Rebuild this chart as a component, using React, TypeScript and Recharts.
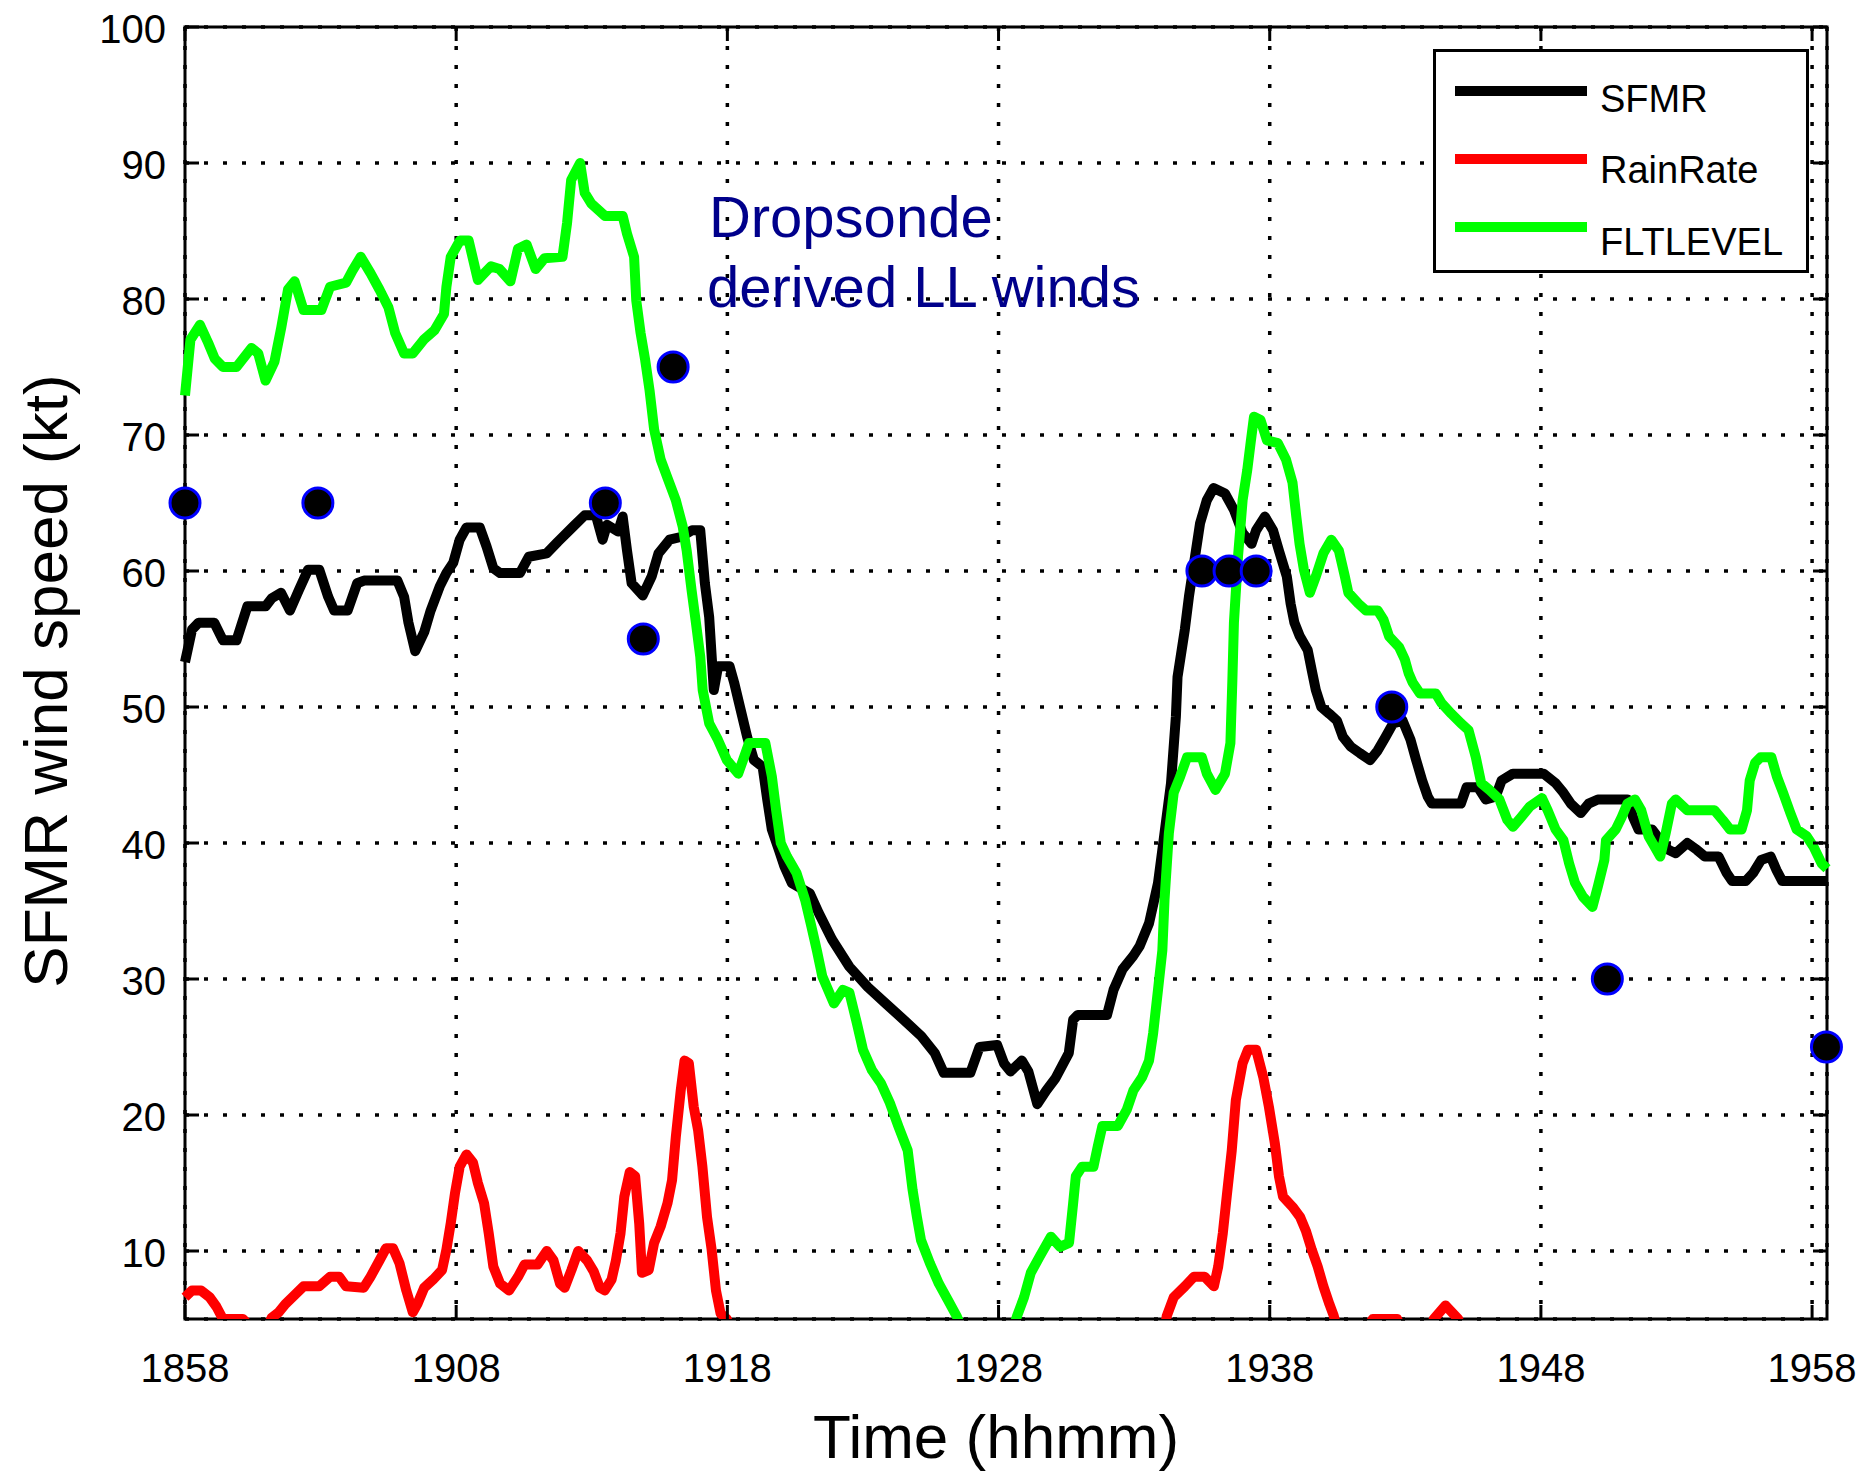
import React from 'react';
import {
  ComposedChart,
  Line,
  Scatter,
  XAxis,
  YAxis,
  CartesianGrid,
  Legend,
  ReferenceArea,
  ReferenceDot,
} from 'recharts';

// ---------- data ----------
// time in minutes after 18:58
const xTicks = [0, 10, 20, 30, 40, 50, 60];
const xTickLabels = ['1858', '1908', '1918', '1928', '1938', '1948', '1958'];
const yTicks = [10, 20, 30, 40, 50, 60, 70, 80, 90, 100];
const legendOrder = ['SFMR', 'RainRate', 'FLTLEVEL'];
const X_MAX = 60.55;
const Y_MIN = 5;
const Y_MAX = 100;

const sfmrSeries: [number, number][] = [
  [0.0, 53.3], [0.26, 55.7], [0.5, 56.2], [1.08, 56.2], [1.4, 54.9], [1.9, 54.9], [2.3, 57.4], [2.97, 57.4],
  [3.2, 58.0], [3.54, 58.4], [3.87, 57.1], [4.2, 58.6], [4.54, 60.1], [4.95, 60.1], [5.28, 58.1], [5.5, 57.1],
  [6.0, 57.1], [6.35, 59.1], [6.6, 59.3], [7.83, 59.3], [8.08, 58.1], [8.24, 56.2], [8.49, 54.1], [8.82, 55.5],
  [9.06, 57.1], [9.39, 58.85], [9.64, 59.85], [9.89, 60.6], [10.13, 62.3], [10.38, 63.2], [10.87, 63.2],
  [11.12, 61.8], [11.37, 60.2], [11.62, 59.85], [12.35, 59.85], [12.68, 61.05], [13.34, 61.3], [13.75, 62.15],
  [14.33, 63.3], [14.74, 64.1], [15.15, 64.1], [15.4, 62.3], [15.56, 63.4], [15.97, 62.9], [16.14, 64.0],
  [16.3, 61.5], [16.47, 59.1], [16.88, 58.2], [17.21, 59.6], [17.46, 61.3], [17.87, 62.3], [18.28, 62.5],
  [18.7, 63.0], [19.0, 63.0], [19.17, 59.1], [19.33, 56.6], [19.5, 51.25], [19.66, 53.0], [20.08, 53.0],
  [20.25, 51.8], [20.49, 49.8], [20.73, 47.8], [20.98, 46.1], [21.3, 45.6], [21.47, 43.2], [21.64, 41.0],
  [21.9, 39.5], [22.1, 38.3], [22.38, 37.05], [23.04, 36.3], [23.37, 34.85], [23.86, 32.9], [24.5, 30.9],
  [25.18, 29.4], [25.84, 28.2], [26.5, 27.0], [27.15, 25.8], [27.65, 24.55], [27.98, 23.1], [28.96, 23.1],
  [29.3, 25.0], [29.95, 25.15], [30.2, 23.8], [30.44, 23.2], [30.86, 24.0], [31.1, 23.2], [31.43, 20.8],
  [31.76, 21.8], [32.1, 22.7], [32.59, 24.55], [32.75, 27.0], [32.92, 27.35], [34.0, 27.35], [34.24, 29.2],
  [34.57, 30.7], [34.97, 31.7], [35.2, 32.4], [35.55, 34.1], [35.88, 37.05], [36.04, 39.5], [36.36, 44.4],
  [36.54, 49.3], [36.6, 52.2], [36.87, 55.7], [37.02, 58.1], [37.28, 61.5], [37.43, 63.5], [37.68, 65.2],
  [37.93, 66.1], [38.35, 65.7], [38.68, 64.5], [39.0, 62.8], [39.33, 62.0], [39.5, 63.0], [39.82, 64.0],
  [40.12, 63.0], [40.34, 61.5], [40.63, 59.6], [40.77, 57.6], [40.91, 56.2], [41.11, 55.2], [41.4, 54.2],
  [41.55, 52.7], [41.7, 51.25], [41.9, 50.0], [42.2, 49.5], [42.48, 49.0], [42.7, 47.8], [42.98, 47.1],
  [43.33, 46.6], [43.7, 46.1], [43.98, 46.8], [44.27, 47.8], [44.55, 48.8], [44.9, 49.0], [45.19, 47.6],
  [45.4, 46.1], [45.62, 44.6], [45.83, 43.4], [45.98, 42.9], [47.05, 42.9], [47.26, 44.1], [47.68, 44.1],
  [47.97, 43.2], [48.33, 43.4], [48.55, 44.6], [48.97, 45.1], [50.1, 45.1], [50.54, 44.4], [50.83, 43.7],
  [51.1, 42.9], [51.47, 42.2], [51.76, 42.9], [52.1, 43.2], [53.19, 43.2], [53.4, 41.9], [53.6, 41.0],
  [54.1, 41.0], [54.4, 40.2], [54.7, 39.5], [54.97, 39.25], [55.4, 40.0], [55.75, 39.5], [56.05, 39.0],
  [56.55, 39.0], [56.85, 37.8], [57.05, 37.2], [57.55, 37.2], [57.83, 37.8], [58.12, 38.75], [58.47, 39.0],
  [58.69, 38.0], [58.9, 37.2], [60.55, 37.2],
];

const rainSeries: [number, number][] = [
  [0.0, 6.6], [0.26, 7.1], [0.59, 7.1], [0.91, 6.6], [1.16, 5.9], [1.4, 5.0], [2.14, 5.0], [2.5, 4.2],
  [3.0, 4.2], [3.2, 5.1], [3.46, 5.5], [3.7, 6.1], [4.04, 6.75], [4.37, 7.4], [4.95, 7.4], [5.35, 8.1],
  [5.69, 8.1], [5.94, 7.4], [6.59, 7.3], [6.84, 8.1], [7.17, 9.3], [7.41, 10.2], [7.67, 10.2], [7.91, 9.1],
  [8.16, 7.1], [8.4, 5.5], [8.57, 6.1], [8.82, 7.3], [9.15, 7.9], [9.48, 8.6], [9.64, 10.1], [9.8, 12.05],
  [9.96, 14.3], [10.13, 16.2], [10.38, 17.1], [10.62, 16.5], [10.8, 15.0], [11.03, 13.5], [11.2, 11.3],
  [11.37, 8.85], [11.62, 7.6], [11.95, 7.1], [12.28, 8.1], [12.52, 9.0], [13.0, 9.0], [13.34, 10.0],
  [13.59, 9.3], [13.83, 7.6], [14.0, 7.3], [14.25, 8.6], [14.5, 10.0], [14.83, 9.3], [15.07, 8.5],
  [15.3, 7.3], [15.48, 7.1], [15.73, 7.9], [15.89, 9.3], [16.06, 11.3], [16.2, 14.0], [16.4, 15.8],
  [16.6, 15.5], [16.75, 12.0], [16.85, 8.4], [17.1, 8.6], [17.3, 10.6], [17.54, 11.8], [17.79, 13.5],
  [17.96, 15.2], [18.1, 18.4], [18.28, 21.8], [18.42, 24.0], [18.58, 23.8], [18.76, 20.6], [18.92, 18.9],
  [19.08, 16.2], [19.25, 12.5], [19.42, 10.1], [19.58, 7.1], [19.75, 5.4], [19.98, 5.0], [20.6, 0.0],
  [35.8, 0.0], [36.2, 5.2], [36.46, 6.6], [36.87, 7.4], [37.2, 8.1], [37.6, 8.1], [37.94, 7.4], [38.1, 8.85],
  [38.27, 11.3], [38.43, 14.3], [38.6, 17.4], [38.75, 21.1], [39.0, 23.8], [39.2, 24.8], [39.5, 24.8],
  [39.76, 22.8], [39.97, 20.6], [40.19, 17.9], [40.34, 15.5], [40.49, 14.0], [40.84, 13.25], [41.12, 12.5],
  [41.33, 11.5], [41.55, 10.1], [41.77, 8.85], [41.98, 7.4], [42.2, 6.1], [42.35, 5.3], [42.6, 3.5],
  [43.5, 4.0], [43.8, 5.0], [44.7, 5.0], [45.0, 3.5], [45.9, 4.0], [46.05, 5.0], [46.48, 6.0], [46.95, 5.0],
  [47.2, 3.0], [48.0, 0.0], [60.55, 0.0],
];

const fltSeries: [number, number][] = [
  [0.0, 72.9], [0.2, 77.0], [0.55, 78.1], [0.85, 76.8], [1.1, 75.6], [1.4, 75.0], [1.9, 75.0], [2.45, 76.4],
  [2.7, 76.0], [2.97, 74.0], [3.3, 75.4], [3.55, 77.9], [3.8, 80.7], [4.04, 81.3], [4.37, 79.2], [5.03, 79.2],
  [5.35, 80.9], [5.94, 81.2], [6.18, 82.1], [6.48, 83.1], [6.84, 81.9], [7.17, 80.7], [7.5, 79.4], [7.75, 77.5],
  [8.08, 76.0], [8.4, 76.0], [8.8, 77.0], [9.2, 77.7], [9.55, 78.9], [9.64, 80.9], [9.8, 83.1], [10.14, 84.3],
  [10.46, 84.3], [10.8, 81.4], [11.28, 82.4], [11.6, 82.2], [12.0, 81.3], [12.28, 83.7], [12.6, 84.0],
  [12.93, 82.2], [13.26, 83.0], [13.92, 83.1], [14.09, 85.6], [14.24, 88.75], [14.57, 90.0], [14.74, 87.8],
  [14.99, 87.0], [15.49, 86.1], [16.14, 86.1], [16.3, 84.8], [16.56, 83.1], [16.64, 79.9], [16.8, 77.5],
  [16.97, 75.5], [17.13, 73.3], [17.3, 70.4], [17.54, 68.2], [17.8, 66.8], [18.1, 65.2], [18.35, 63.3],
  [18.5, 61.5], [18.68, 58.6], [18.84, 56.2], [19.0, 53.7], [19.09, 51.25], [19.33, 48.8], [19.65, 47.6],
  [19.98, 46.1], [20.4, 45.1], [20.8, 47.35], [21.4, 47.35], [21.64, 44.9], [21.8, 42.4], [21.97, 40.0],
  [22.2, 39.0], [22.55, 37.8], [22.87, 35.8], [23.1, 33.85], [23.3, 32.1], [23.5, 30.2], [23.93, 28.2],
  [24.26, 29.2], [24.5, 29.0], [24.77, 26.8], [25.0, 24.8], [25.33, 23.3], [25.66, 22.35], [25.99, 20.9],
  [26.32, 19.1], [26.65, 17.4], [26.83, 14.5], [26.99, 12.5], [27.14, 10.8], [27.47, 9.1], [27.8, 7.6],
  [28.13, 6.4], [28.46, 5.2], [29.0, 2.5], [29.8, 1.0], [30.3, 2.8], [30.68, 5.2], [30.94, 6.6], [31.19, 8.4],
  [31.52, 9.6], [31.93, 11.05], [32.27, 10.3], [32.6, 10.6], [32.75, 13.5], [32.85, 15.5], [33.08, 16.2],
  [33.5, 16.2], [33.66, 17.7], [33.83, 19.2], [34.4, 19.2], [34.73, 20.4], [34.97, 21.8], [35.3, 22.8],
  [35.55, 24.0], [35.7, 26.0], [35.88, 29.2], [36.04, 32.1], [36.12, 35.8], [36.28, 40.7], [36.46, 43.7],
  [36.7, 44.9], [36.95, 46.3], [37.5, 46.3], [37.68, 45.1], [38.0, 43.9], [38.35, 45.1], [38.55, 47.35],
  [38.62, 51.8], [38.68, 56.2], [38.83, 61.05], [39.0, 65.2], [39.17, 67.4], [39.3, 69.5], [39.42, 71.35],
  [39.66, 71.1], [39.9, 69.6], [40.3, 69.4], [40.6, 68.2], [40.84, 66.5], [40.98, 64.0], [41.1, 62.0],
  [41.26, 60.1], [41.48, 58.4], [41.7, 59.6], [41.98, 61.3], [42.27, 62.3], [42.55, 61.5], [42.77, 59.6],
  [42.9, 58.4], [43.27, 57.6], [43.55, 57.1], [43.98, 57.1], [44.2, 56.4], [44.4, 55.2], [44.77, 54.4],
  [44.98, 53.5], [45.12, 52.5], [45.27, 51.8], [45.54, 51.0], [46.12, 51.0], [46.33, 50.3], [46.7, 49.5],
  [47.05, 48.8], [47.33, 48.3], [47.6, 46.3], [47.8, 44.4], [48.1, 43.9], [48.47, 43.2], [48.76, 41.7],
  [48.97, 41.2], [49.27, 41.9], [49.6, 42.7], [50.04, 43.3], [50.25, 42.4], [50.54, 41.0], [50.83, 40.2],
  [51.04, 38.5], [51.26, 37.05], [51.55, 36.05], [51.9, 35.3], [52.1, 36.8], [52.34, 38.75], [52.4, 40.2],
  [52.76, 41.0], [52.98, 41.9], [53.19, 42.9], [53.47, 43.2], [53.7, 42.4], [53.97, 40.5], [54.2, 39.7],
  [54.4, 39.0], [54.6, 40.7], [54.83, 42.9], [54.97, 43.2], [55.4, 42.4], [56.4, 42.4], [56.7, 41.7],
  [56.97, 41.0], [57.4, 41.0], [57.6, 42.4], [57.7, 44.6], [57.9, 45.9], [58.1, 46.3], [58.5, 46.3],
  [58.7, 44.9], [58.93, 43.7], [59.2, 42.2], [59.43, 41.0], [59.8, 40.5], [60.06, 39.7], [60.35, 38.5],
  [60.55, 38.1],
];

const dropsondeSeries: [number, number][] = [
  [0.0, 65], [4.9, 65], [15.5, 65], [16.9, 55], [18.0, 75], [37.5, 60], [38.5, 60], [39.5, 60],
  [44.5, 50], [52.45, 30], [60.53, 25],
];

const annotationLines = ['Dropsonde', 'derived LL winds'];
const annotationAt = { t: 19.32, v: 84.56 };

const toRows = (s: [number, number][]) => s.map(([t, v]) => ({ t, v }));
const sfmrData = toRows(sfmrSeries);
const rainData = toRows(rainSeries);
const fltData = toRows(fltSeries);
const dropData = toRows(dropsondeSeries);

// ---------- layout ----------
const W = 1857;
const H = 1472;
const PLOT_LEFT = 185;
const PLOT_TOP = 27;
const PLOT_RIGHT = 1827;
const PLOT_BOTTOM = 1319;
const FONT = '"Liberation Sans", Arial, Helvetica, sans-serif';
const TICK_LEN = 14;
const LINE_W = 10;

const XTick = (props: any) => {
  const { x, payload } = props;
  const idx = xTicks.indexOf(payload.value);
  return (
    <g>
      <line x1={x} x2={x} y1={PLOT_BOTTOM} y2={PLOT_BOTTOM - TICK_LEN} stroke="#000" strokeWidth={3} />
      <line x1={x} x2={x} y1={PLOT_TOP} y2={PLOT_TOP + TICK_LEN} stroke="#000" strokeWidth={3} />
      <text x={x} y={1382} textAnchor="middle" fontSize={40} fontFamily={FONT} fill="#000">
        {idx >= 0 ? xTickLabels[idx] : payload.value}
      </text>
    </g>
  );
};

const YTick = (props: any) => {
  const { y, payload } = props;
  return (
    <g>
      <line x1={PLOT_LEFT} x2={PLOT_LEFT + TICK_LEN} y1={y} y2={y} stroke="#000" strokeWidth={3} />
      <line x1={PLOT_RIGHT} x2={PLOT_RIGHT - TICK_LEN} y1={y} y2={y} stroke="#000" strokeWidth={3} />
      <text x={166} y={y + 16} textAnchor="end" fontSize={40} fontFamily={FONT} fill="#000">
        {payload.value}
      </text>
    </g>
  );
};

const renderDot = (p: any) => (
  <circle cx={p.cx} cy={p.cy} r={15} fill="#000" stroke="#0000ff" strokeWidth={3} />
);

const renderLegend = (props: any) => {
  const items = (props.payload || [])
    .filter((it: any) => it.type !== 'none' && legendOrder.indexOf(String(it.value)) >= 0)
    .slice()
    .sort(
      (a: any, b: any) => legendOrder.indexOf(String(a.value)) - legendOrder.indexOf(String(b.value)),
    );
  return (
    <div
      style={{
        position: 'relative',
        width: 376,
        height: 224,
        boxSizing: 'border-box',
        border: '3px solid #000',
        background: '#fff',
        fontFamily: FONT,
      }}
    >
      {items.map((it: any, i: number) => (
        <React.Fragment key={String(it.value)}>
          <div
            style={{
              position: 'absolute',
              left: 19,
              top: 34 + 68 * i,
              width: 132,
              height: 10,
              background: it.color,
            }}
          />
          <div
            style={{
              position: 'absolute',
              left: 164,
              top: 28 + 71.3 * i,
              fontSize: 38,
              lineHeight: '38px',
              whiteSpace: 'nowrap',
              color: '#000',
            }}
          >
            {it.value}
          </div>
        </React.Fragment>
      ))}
    </div>
  );
};

const AnnotationLabel = (props: any) => {
  const vb = props.viewBox || {};
  const x = vb.x ?? 0;
  const y = vb.y ?? 0;
  return (
    <g>
      {annotationLines.map((s, i) => (
        <text key={s} x={x - 2 * i} y={y + 70 * i} fontSize={58} fontFamily={FONT} fill="#00008B">
          {s}
        </text>
      ))}
    </g>
  );
};

const XLabel = () => (
  <text x={996} y={1458} textAnchor="middle" fontSize={62} fontFamily={FONT} fill="#000">
    Time (hhmm)
  </text>
);

const YLabel = () => (
  <text
    transform="translate(67, 681) rotate(-90)"
    textAnchor="middle"
    fontSize={62}
    fontFamily={FONT}
    fill="#000"
  >
    SFMR wind speed (kt)
  </text>
);

export default function App() {
  return (
    <div style={{ position: 'absolute', left: 0, top: 0, width: W, height: H, background: '#fff' }}>
      <ComposedChart width={W} height={H} margin={{ top: PLOT_TOP, right: W - PLOT_RIGHT, bottom: 0, left: 0 }}>
        <CartesianGrid stroke="#000" strokeWidth={3.5} strokeDasharray="4 15" />
        <XAxis
          type="number"
          dataKey="t"
          domain={[0, X_MAX]}
          ticks={xTicks}
          interval={0}
          height={H - PLOT_BOTTOM}
          tickLine={false}
          axisLine={false}
          tickSize={0}
          tickMargin={0}
          tick={<XTick />}
          label={<XLabel />}
        />
        <YAxis
          type="number"
          domain={[Y_MIN, Y_MAX]}
          ticks={yTicks}
          interval={0}
          allowDataOverflow
          width={PLOT_LEFT}
          tickLine={false}
          axisLine={false}
          tickSize={0}
          tickMargin={0}
          tick={<YTick />}
          label={<YLabel />}
        />
        <YAxis yAxisId="dots" type="number" dataKey="v" domain={[Y_MIN, Y_MAX]} hide />
        <ReferenceArea x1={0} x2={X_MAX} y1={Y_MIN} y2={Y_MAX} fill="none" stroke="#000" strokeWidth={3} />
        <Line
          data={sfmrData}
          dataKey="v"
          name="SFMR"
          type="linear"
          stroke="#000000"
          strokeWidth={LINE_W}
          dot={false}
          activeDot={false}
          strokeLinejoin="round"
          isAnimationActive={false}
        />
        <Line
          data={rainData}
          dataKey="v"
          name="RainRate"
          type="linear"
          stroke="#ff0000"
          strokeWidth={LINE_W}
          dot={false}
          activeDot={false}
          strokeLinejoin="round"
          isAnimationActive={false}
        />
        <Line
          data={fltData}
          dataKey="v"
          name="FLTLEVEL"
          type="linear"
          stroke="#00ff00"
          strokeWidth={LINE_W}
          dot={false}
          activeDot={false}
          strokeLinejoin="round"
          isAnimationActive={false}
        />
        <Scatter
          data={dropData}
          dataKey="v"
          yAxisId="dots"
          name="Dropsonde"
          legendType="none"
          shape={renderDot}
          isAnimationActive={false}
        />
        <ReferenceDot
          x={annotationAt.t}
          y={annotationAt.v}
          r={0}
          fill="none"
          stroke="none"
          label={<AnnotationLabel />}
        />
        <Legend
          layout="vertical"
          align="center"
          verticalAlign="middle"
          content={renderLegend}
          wrapperStyle={{ left: 1433, top: 49, width: 376, height: 224, margin: 0, padding: 0 }}
        />
      </ComposedChart>
    </div>
  );
}
